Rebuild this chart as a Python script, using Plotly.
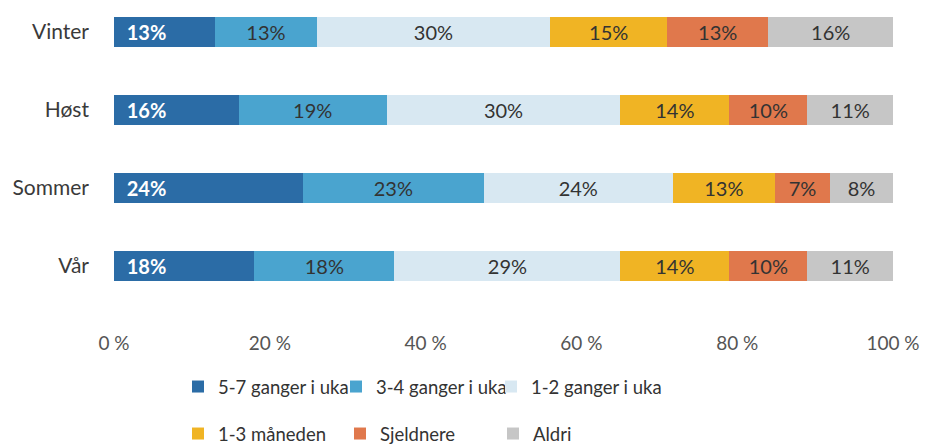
import plotly.graph_objects as go

seasons = ["Vår", "Sommer", "Høst", "Vinter"]
series_names = ["5-7 ganger i uka", "3-4 ganger i uka", "1-2 ganger i uka",
                "1-3 måneden", "Sjeldnere", "Aldri"]
v_57 = [18, 24, 16, 13]
v_34 = [18, 23, 19, 13]
v_12 = [29, 24, 30, 30]
v_13m = [14, 13, 14, 15]
v_sj = [10, 7, 10, 13]
v_al = [11, 8, 11, 16]
values = [v_57, v_34, v_12, v_13m, v_sj, v_al]
colors = ["#2b6ca6", "#4aa4cf", "#d8e8f2", "#f0b424", "#e0784c", "#c6c6c6"]
tick_vals = [0, 20, 40, 60, 80, 100]
tick_text = ["0 %", "20 %", "40 %", "60 %", "80 %", "100 %"]

FONT = "Lato"
PLOT_L, PLOT_W, PLOT_H = 114, 779, 330
# legend text start positions (px) and row centres (px)
leg_text_x = [218, 376, 531, 218, 380, 533]
leg_row_y = [387, 387, 387, 434, 434, 434]

fig = go.Figure()
layout_legends = {}
for i, (name, vals, col) in enumerate(zip(series_names, values, colors)):
    first = i == 0
    lname = "legend" if i == 0 else f"legend{i + 1}"
    fig.add_trace(go.Bar(
        y=seasons, x=vals, name=name, orientation="h",
        marker=dict(color=col, line=dict(width=0)),
        text=[f"{v}%" for v in vals],
        texttemplate=("\u00a0\u00a0%{text}" if first else "%{text}"),
        textposition="inside",
        insidetextanchor="start" if first else "middle",
        textangle=0,
        constraintext="none",
        insidetextfont=dict(family=FONT, size=20,
                            color="white" if first else "#333333",
                            weight="bold" if first else "normal"),
        legend=lname,
        hoverinfo="skip",
    ))
    layout_legends[lname] = dict(
        orientation="h",
        x=(leg_text_x[i] - 40 - PLOT_L) / PLOT_W, xanchor="left",
        y=(PLOT_H - leg_row_y[i]) / PLOT_H, yanchor="middle",
        font=dict(size=18.5, color="#333333"),
        bgcolor="rgba(0,0,0,0)",
    )

fig.update_layout(
    barmode="stack", barnorm="percent", bargap=0.61,
    width=928, height=445,
    margin=dict(l=PLOT_L, r=35, t=0, b=445 - PLOT_H, autoexpand=False),
    plot_bgcolor="white", paper_bgcolor="white",
    font=dict(family=FONT, color="#444444"),
    xaxis=dict(range=[0, 100], tickvals=tick_vals, ticktext=tick_text,
               showgrid=False, zeroline=False, showline=False,
               tickfont=dict(size=19, color="#555555"), ticks=""),
    yaxis=dict(range=[-0.82, 3.41], showgrid=False, zeroline=False, showline=False,
               ticks="", ticklabelstandoff=24,
               tickfont=dict(size=21, color="#3a3a3a")),
    showlegend=True,
    **layout_legends,
)

fig.write_html("out.html")
